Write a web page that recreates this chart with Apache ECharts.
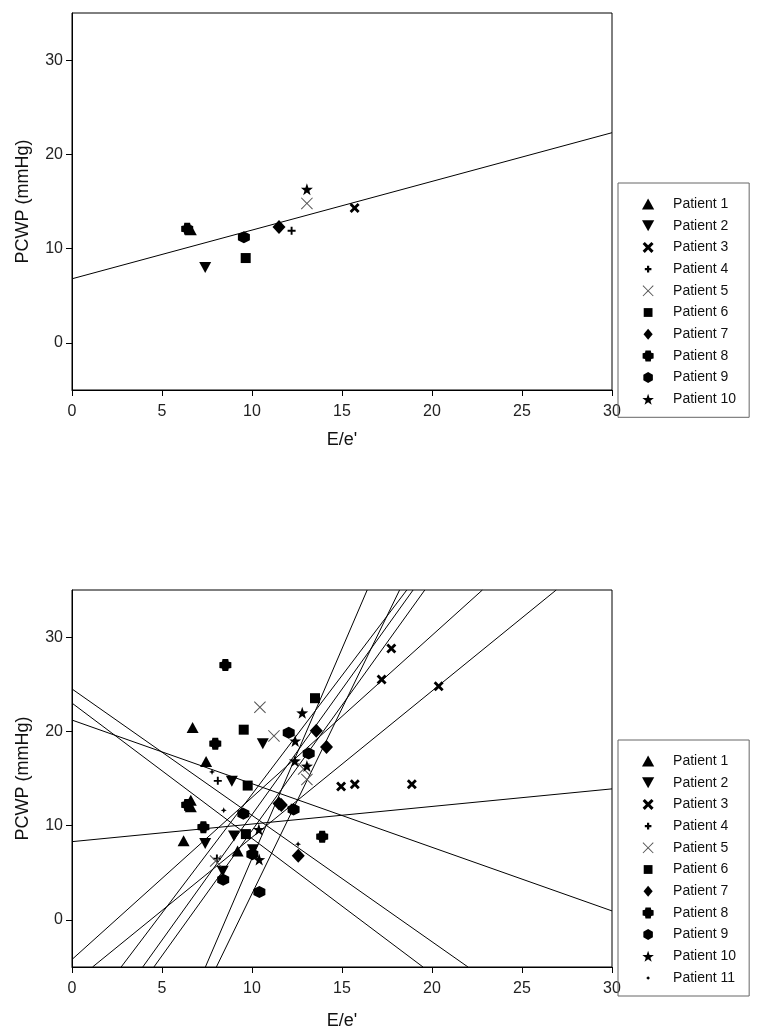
<!DOCTYPE html>
<html>
<head>
<meta charset="utf-8">
<script src="https://cdn.jsdelivr.net/npm/echarts@6/dist/echarts.min.js"></script>
<style>
html,body{margin:0;padding:0;background:#fff;}
#chart{width:758px;height:1036px;}
</style>
</head>
<body>
<div id="chart"></div>
<script>
// ---------- data ----------
const patients = ['Patient 1','Patient 2','Patient 3','Patient 4','Patient 5','Patient 6','Patient 7','Patient 8','Patient 9','Patient 10','Patient 11'];
const xTicks = [0,5,10,15,20,25,30];
const yTicks = [0,10,20,30];

// top chart: one measurement per patient
const topP1 = [[6.6,12.0]];
const topP2 = [[7.4,8.0]];
const topP3 = [[15.7,14.3]];
const topP4 = [[12.2,11.9]];
const topP5 = [[13.05,14.8]];
const topP6 = [[9.65,9.0]];
const topP7 = [[11.5,12.3]];
const topP8 = [[6.4,12.1]];
const topP9 = [[9.55,11.2]];
const topP10 = [[13.05,16.3]];
const topFit = [[0,6.8],[30,22.3]];

// bottom chart: all measurements
const botP1 = [[6.7,20.4],[7.45,16.8],[6.6,12.7],[6.6,12.0],[6.2,8.4],[9.2,7.3]];
const botP2 = [[10.6,18.7],[8.88,14.7],[9.0,8.9],[7.4,8.1],[10.05,7.45],[8.37,5.15]];
const botP3 = [[17.74,28.8],[17.2,25.5],[20.37,24.8],[14.95,14.15],[15.71,14.4],[18.88,14.4]];
const botP4 = [[8.1,14.75],[8.05,6.5],[12.2,11.9]];
const botP5 = [[10.44,22.55],[11.22,19.52],[12.87,16.0],[13.05,14.9],[7.98,6.25]];
const botP6 = [[9.54,20.18],[13.5,23.52],[9.76,14.25],[9.66,9.1]];
const botP7 = [[13.57,20.06],[14.14,18.35],[11.5,12.35],[11.63,12.2],[12.57,6.8]];
const botP8 = [[8.52,27.03],[7.96,18.7],[6.4,12.2],[7.3,9.83],[13.9,8.83]];
const botP9 = [[12.04,19.85],[13.15,17.66],[12.31,11.72],[9.52,11.25],[8.4,4.27],[10.41,2.97],[10.02,6.95]];
const botP10 = [[12.79,21.97],[12.4,18.99],[12.38,16.87],[13.05,16.32],[10.38,9.6],[10.4,6.4]];
const botP11 = [[7.78,15.7],[8.43,11.62],[12.56,8.03]];

// bottom chart per-patient fitted lines, end points read at the plot edges
const fitP1  = [[0,23.0],[19.5,-5]];
const fitP2  = [[2.73,-5],[18.6,35]];
const fitP3  = [[1.14,-5],[26.9,35]];
const fitP4  = [[0,8.3],[30,13.9]];
const fitP5  = [[0,-4.2],[22.8,35]];
const fitP6  = [[3.93,-5],[18.95,35]];
const fitP7  = [[8.02,-5],[18.2,35]];
const fitP8  = [[0,21.2],[30,0.95]];
const fitP9  = [[4.55,-5],[19.6,35]];
const fitP10 = [[7.41,-5],[16.4,35]];
const fitP11 = [[0,24.5],[22.0,-5]];

// ---------- symbols ----------
const SYM = {
  'Patient 1': {symbol:'path://M5,0L10,9L0,9Z', size:[12,11], color:'#000', icon:'path://M5,0L10,9L0,9Z'},
  'Patient 2': {symbol:'path://M0,0L10,0L5,9Z', size:[12,11], color:'#000', icon:'path://M0,0L10,0L5,9Z'},
  'Patient 3': {symbol:'path://M0,2L2,0L5,3L8,0L10,2L7,5L10,8L8,10L5,7L2,10L0,8L3,5Z', size:10, color:'#000',
                icon:'path://M0,2L2,0L5,3L8,0L10,2L7,5L10,8L8,10L5,7L2,10L0,8L3,5Z'},
  'Patient 4': {symbol:'path://M3.8,0H6.2V3.8H10V6.2H6.2V10H3.8V6.2H0V3.8H3.8Z', size:8, color:'#000',
                icon:'path://M0,0M10,10M4,2H6V4H8V6H6V8H4V6H2V4H4Z'},
  'Patient 5': {symbol:'path://M0,0.6L0.6,0L5,4.4L9.4,0L10,0.6L5.6,5L10,9.4L9.4,10L5,5.6L0.6,10L0,9.4L4.4,5Z', size:12, color:'#555',
                icon:'path://M0,0.6L0.6,0L5,4.4L9.4,0L10,0.6L5.6,5L10,9.4L9.4,10L5,5.6L0.6,10L0,9.4L4.4,5Z'},
  'Patient 6': {symbol:'path://M0,0H10V10H0Z', size:10, color:'#000', icon:'path://M0,0M10,10M1,1H9V9H1Z'},
  'Patient 7': {symbol:'path://M5,0L10,6L5,12L0,6Z', size:[13,14], color:'#000', icon:'path://M5,0L10,6L5,12L0,6Z'},
  'Patient 8': {symbol:'path://M2.6,0H7.4L7.8,2.2L10,2.6V7.4L7.8,7.8L7.4,10H2.6L2.2,7.8L0,7.4V2.6L2.2,2.2Z', size:12, color:'#000',
                icon:'path://M2.6,0H7.4L7.8,2.2L10,2.6V7.4L7.8,7.8L7.4,10H2.6L2.2,7.8L0,7.4V2.6L2.2,2.2Z'},
  'Patient 9': {symbol:'path://M5,0L9.33,2.5L9.33,7.5L5,10L0.67,7.5L0.67,2.5Z', size:12, color:'#000',
                icon:'path://M5,0L9.33,2.5L9.33,7.5L5,10L0.67,7.5L0.67,2.5Z'},
  'Patient 10': {symbol:'path://M5,0L6.176,3.382L9.755,3.455L6.902,5.618L7.939,9.045L5,7L2.061,9.045L3.098,5.618L0.245,3.455L3.824,3.382Z', size:12, color:'#000',
                icon:'path://M5,0L6.176,3.382L9.755,3.455L6.902,5.618L7.939,9.045L5,7L2.061,9.045L3.098,5.618L0.245,3.455L3.824,3.382Z'},
  'Patient 11': {symbol:'path://M5,0L6.5,3.5L10,5L6.5,6.5L5,10L3.5,6.5L0,5L3.5,3.5Z', size:6, color:'#000',
                icon:'path://M0,0M10,10M5,3.3L6.7,5L5,6.7L3.3,5Z'}
};

const topData = [topP1,topP2,topP3,topP4,topP5,topP6,topP7,topP8,topP9,topP10];
const botData = [botP1,botP2,botP3,botP4,botP5,botP6,botP7,botP8,botP9,botP10,botP11];
const botFits = [fitP1,fitP2,fitP3,fitP4,fitP5,fitP6,fitP7,fitP8,fitP9,fitP10,fitP11];

const FONT = "'Liberation Sans', Arial, sans-serif";

function scatter(name, data, idx){
  const s = SYM[name];
  return {
    type:'scatter', name:name, xAxisIndex:idx, yAxisIndex:idx,
    data:data, symbol:s.symbol, symbolSize:s.size,
    itemStyle:{color:s.color, opacity:1},
    emphasis:{disabled:true}, z:3
  };
}
function fitLine(pts, idx){
  return {
    type:'line', name:'fit', xAxisIndex:idx, yAxisIndex:idx,
    data:pts, symbol:'none', silent:true, clip:true,
    lineStyle:{color:'#000', width:1}, z:2
  };
}

const series = [];
topData.forEach((d,i)=>series.push(scatter(patients[i], d, 0)));
series.push(fitLine(topFit, 0));
botData.forEach((d,i)=>series.push(scatter(patients[i], d, 1)));
botFits.forEach(f=>series.push(fitLine(f, 1)));

function xAxis(idx, gap){
  return {
    type:'value', gridIndex:idx, min:0, max:30, interval:5,
    name:"E/e'", nameLocation:'middle', nameGap:gap,
    nameTextStyle:{fontFamily:FONT, fontSize:18, color:'#111'},
    axisLine:{show:true, onZero:false, lineStyle:{color:'#000', width:1}},
    axisTick:{show:true, length:6, lineStyle:{color:'#000'}},
    axisLabel:{fontFamily:FONT, fontSize:16, color:'#222', margin:14},
    splitLine:{show:false}
  };
}
function yAxis(idx){
  return {
    type:'value', gridIndex:idx, min:-5, max:35,
    name:'PCWP (mmHg)', nameLocation:'middle', nameGap:40,
    nameTextStyle:{fontFamily:FONT, fontSize:18, color:'#111'},
    axisLine:{show:true, onZero:false, lineStyle:{color:'#000', width:1}},
    axisTick:{show:true, length:6, customValues:yTicks, lineStyle:{color:'#000'}},
    axisLabel:{fontFamily:FONT, fontSize:16, color:'#222', margin:9, customValues:yTicks},
    splitLine:{show:false}
  };
}

function legend(names, top){
  return {
    orient:'vertical', left:618, top:top,
    data:names.map(n=>({name:n, icon:SYM[n].icon, itemStyle:{color:SYM[n].color}})),
    itemWidth:40, itemHeight:11, itemGap:7.7,
    padding:[14,13,11,24],
    borderColor:'#666', borderWidth:1,
    selectedMode:false,
    textStyle:{fontFamily:FONT, fontSize:14, color:'#111', padding:[0,0,0,0]}
  };
}

const chart = echarts.init(document.getElementById('chart'), null, {renderer:'canvas'});
chart.setOption({
  animation:false,
  backgroundColor:'#fff',
  grid:[
    {left:72, top:13, width:540, height:377, show:true, borderColor:'#000', borderWidth:1},
    {left:72, top:590, width:540, height:377, show:true, borderColor:'#000', borderWidth:1}
  ],
  xAxis:[xAxis(0, 41), xAxis(1, 45)],
  yAxis:[yAxis(0), yAxis(1)],
  legend:[legend(patients.slice(0,10), 183), legend(patients, 740)],
  series:series
});
</script>
</body>
</html>
